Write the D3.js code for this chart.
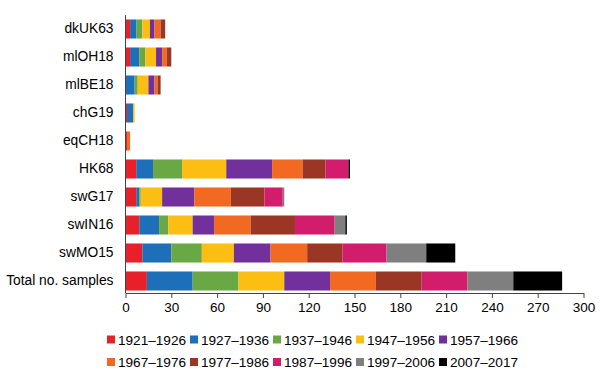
<!DOCTYPE html>
<html>
<head>
  <meta charset="utf-8">
  <script src="https://d3js.org/d3.v7.min.js"></script>
  <style>
    body { margin: 0; background: #fff; }
    text { font-family: Arial, "Liberation Sans", sans-serif; fill: #000; }
  </style>
</head>
<body>
  <script>
    var categories = ['dkUK63', 'mlOH18', 'mlBE18', 'chG19', 'eqCH18', 'HK68', 'swG17', 'swIN16', 'swMO15', 'Total no. samples'];
    var periods = ['1921\u20131926', '1927\u20131936', '1937\u20131946', '1947\u20131956', '1957\u20131966',
                   '1967\u20131976', '1977\u20131986', '1987\u20131996', '1997\u20132006', '2007\u20132017'];
    var colors = ['#e82029', '#1e6fb9', '#6aa845', '#fdbe14', '#71309b', '#f26a22', '#9b3624', '#d21d6d', '#7f7f7f', '#000000'];

    // counts per period, in category order
    var y1921 = [3, 3, 0, 1, 1, 7, 7, 9, 11, 14];
    var y1927 = [4, 6, 6, 4, 0, 11, 2, 13, 19, 30];
    var y1937 = [4, 4, 2, 0, 0, 19, 1, 6, 20, 30];
    var y1947 = [5, 7, 7, 1, 0, 29, 14, 16, 21, 30];
    var y1957 = [3, 4, 4, 0, 0, 30, 21, 14, 24, 30];
    var y1967 = [4, 3, 2, 0, 2, 20, 24, 24, 24, 30];
    var y1977 = [3, 3, 2, 0, 0, 15, 22, 29, 23, 30];
    var y1987 = [0, 0, 0, 0, 0, 15, 12, 26, 29, 30];
    var y1997 = [0, 0, 0, 0, 0, 0, 1, 7, 26, 30];
    var y2007 = [0, 0, 0, 0, 0, 1, 0, 1, 19, 32];
    var series = [y1921, y1927, y1937, y1947, y1957, y1967, y1977, y1987, y1997, y2007];
    var xTicks = [0, 30, 60, 90, 120, 150, 180, 210, 240, 270, 300];

    var w = 600, h = 381;
    var left = 125.5, right = 583.5, axisY = 293;

    var rows = categories.map(function(c, i) {
      var r = {cat: c};
      periods.forEach(function(p, j) { r[p] = series[j][i]; });
      return r;
    });
    var stacked = d3.stack().keys(periods)(rows);

    var x = d3.scaleLinear().domain([0, 300]).range([left, right]);
    var y = d3.scaleBand().domain(categories).range([15, 295])
      .paddingInner(0.32).paddingOuter(0.16);

    var svg = d3.select('body').append('svg')
      .attr('width', w)
      .attr('height', h);

    svg.selectAll('.layer')
      .data(stacked)
    .enter().append('g')
      .attr('class', 'layer')
      .attr('fill', function(d, i) { return colors[i]; })
    .selectAll('rect')
      .data(function(d) { return d; })
    .enter().append('rect')
      .attr('x', function(d) { return x(d[0]); })
      .attr('width', function(d) { return x(d[1]) - x(d[0]); })
      .attr('y', function(d) { return y(d.data.cat); })
      .attr('height', y.bandwidth());

    // x axis
    var xAxis = d3.axisBottom(x).tickValues(xTicks).tickSize(5).tickSizeOuter(0).tickPadding(4);
    var gx = svg.append('g')
      .attr('transform', 'translate(0,' + axisY + ')')
      .call(xAxis);
    gx.select('.domain').attr('stroke', '#444');
    gx.selectAll('.tick line').attr('stroke', '#444');
    gx.selectAll('.tick text').style('font-size', '13.5px').attr('fill', '#000');

    // y axis
    var yAxis = d3.axisLeft(y).tickSize(0).tickPadding(12);
    var gy = svg.append('g')
      .attr('transform', 'translate(' + left + ',0)')
      .call(yAxis);
    gy.select('.domain').attr('stroke', '#444').attr('d', 'M0,15V' + axisY);
    gy.selectAll('.tick text').style('font-size', '13.8px').attr('fill', '#000');

    // legend, two rows of five
    var legend = svg.append('g');
    periods.forEach(function(p, i) {
      var row = Math.floor(i / 5);
      var col = i % 5;
      var lx = 107 + col * 83;
      var ly = 339.5 + row * 22.5;
      legend.append('rect')
        .attr('x', lx).attr('y', ly - 4)
        .attr('width', 8).attr('height', 8)
        .attr('fill', colors[i]);
      legend.append('text')
        .attr('x', lx + 11).attr('y', ly + 5)
        .style('font-size', '13.6px')
        .text(p);
    });
  </script>
</body>
</html>
